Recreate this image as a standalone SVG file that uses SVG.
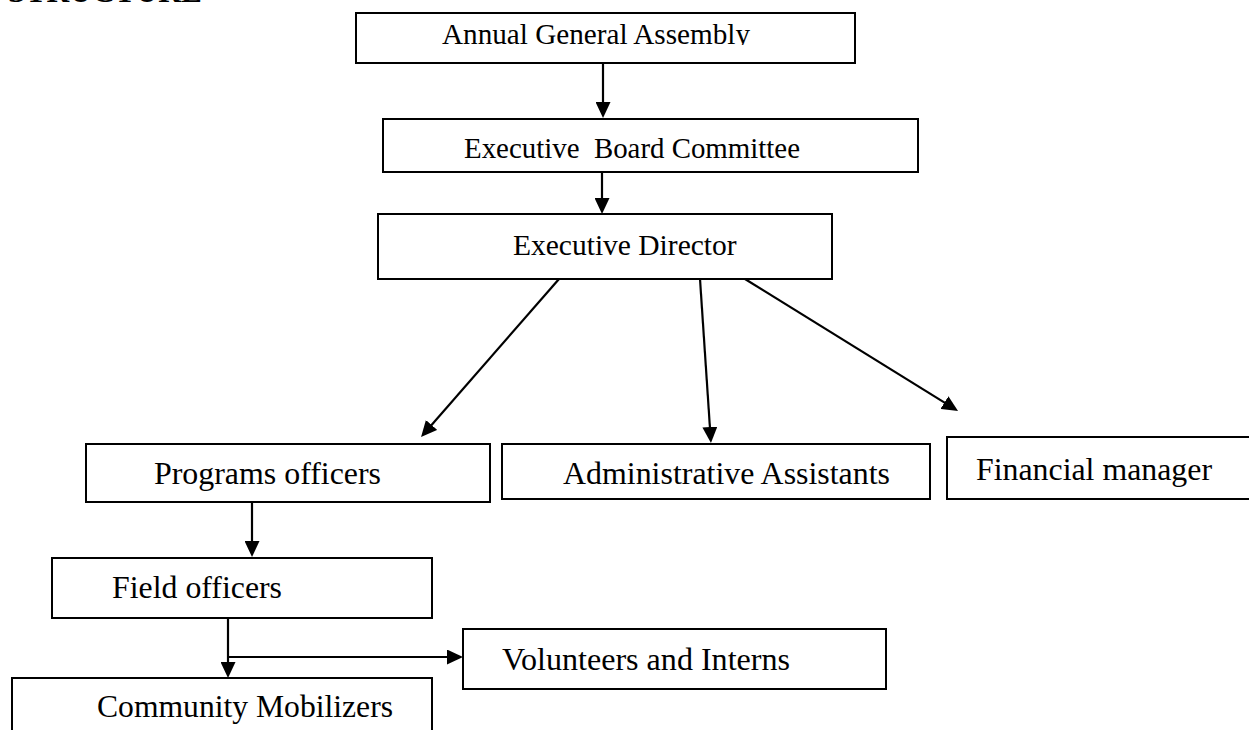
<svg xmlns="http://www.w3.org/2000/svg" width="1249" height="730" viewBox="0 0 1249 730">
  <defs>
    <marker id="arrow" viewBox="0 0 16 15" markerWidth="16" markerHeight="15" refX="3" refY="7.5" orient="auto" markerUnits="userSpaceOnUse">
      <path d="M0,0 L16,7.5 L0,15 z" fill="#000"/>
    </marker>
    <clipPath id="clip-assembly">
      <rect x="356" y="13" width="499" height="32"/>
    </clipPath>
  </defs>
  <style>
    .box { fill: #fff; stroke: #000; stroke-width: 2; }
    .label { font-family: "Liberation Serif", "Times New Roman", serif; fill: #000; }
    .top { font-size: 29.5px; }
    .low { font-size: 31.6px; }
    .title { font-family: "Liberation Serif", "Times New Roman", serif; font-size: 31.6px; font-weight: bold; fill: #000; }
    .conn { stroke: #000; stroke-width: 2.2; fill: none; }
    .conn .arr { marker-end: url(#arrow); }
  </style>

  <rect width="1249" height="730" fill="#fff"/>

  <!-- page heading, mostly above the top edge -->
  <text class="title" x="8" y="1.5" textLength="194" lengthAdjust="spacingAndGlyphs">STRUCTURE</text>

  <g id="connectors" class="conn">
    <line class="arr" x1="603" y1="63" x2="603" y2="105"/>
    <line class="arr" x1="602" y1="172" x2="602" y2="201"/>
    <line class="arr" x1="559" y1="279" x2="429.6" y2="427.2"/>
    <line class="arr" x1="700" y1="279" x2="710.1" y2="430"/>
    <line class="arr" x1="745" y1="279" x2="947" y2="404.1"/>
    <line class="arr" x1="252" y1="502" x2="252" y2="544"/>
    <line class="arr" x1="228" y1="618" x2="228" y2="665"/>
    <line class="arr" x1="228" y1="657" x2="450" y2="657"/>
  </g>

  <g id="annual-general-assembly">
    <rect class="box" x="356" y="13" width="499" height="50"/>
    <text class="label top" x="442" y="44" clip-path="url(#clip-assembly)" textLength="308" lengthAdjust="spacingAndGlyphs">Annual General Assembly</text>
  </g>

  <g id="executive-board-committee">
    <rect class="box" x="383" y="119" width="535" height="53"/>
    <text class="label top" x="464" y="158" textLength="336" lengthAdjust="spacingAndGlyphs" xml:space="preserve">Executive  Board Committee</text>
  </g>

  <g id="executive-director">
    <rect class="box" x="378" y="214" width="454" height="65"/>
    <text class="label top" x="513" y="255">Executive Director</text>
  </g>

  <g id="programs-officers">
    <rect class="box" x="86" y="444" width="404" height="58"/>
    <text class="label low" x="154" y="484" textLength="227" lengthAdjust="spacingAndGlyphs">Programs officers</text>
  </g>

  <g id="administrative-assistants">
    <rect class="box" x="502" y="444" width="428" height="55"/>
    <text class="label low" x="563" y="484" textLength="327" lengthAdjust="spacingAndGlyphs">Administrative Assistants</text>
  </g>

  <g id="financial-manager">
    <rect class="box" x="947" y="437" width="320" height="62"/>
    <text class="label low" x="976" y="480" textLength="236" lengthAdjust="spacingAndGlyphs">Financial manager</text>
  </g>

  <g id="field-officers">
    <rect class="box" x="52" y="558" width="380" height="60"/>
    <text class="label low" x="112" y="598" textLength="170" lengthAdjust="spacingAndGlyphs">Field officers</text>
  </g>

  <g id="volunteers-and-interns">
    <rect class="box" x="463" y="629" width="423" height="60"/>
    <text class="label low" x="502" y="670" textLength="288" lengthAdjust="spacingAndGlyphs">Volunteers and Interns</text>
  </g>

  <g id="community-mobilizers">
    <rect class="box" x="12" y="678" width="420" height="70"/>
    <text class="label low" x="97" y="717" textLength="296" lengthAdjust="spacingAndGlyphs">Community Mobilizers</text>
  </g>
</svg>
